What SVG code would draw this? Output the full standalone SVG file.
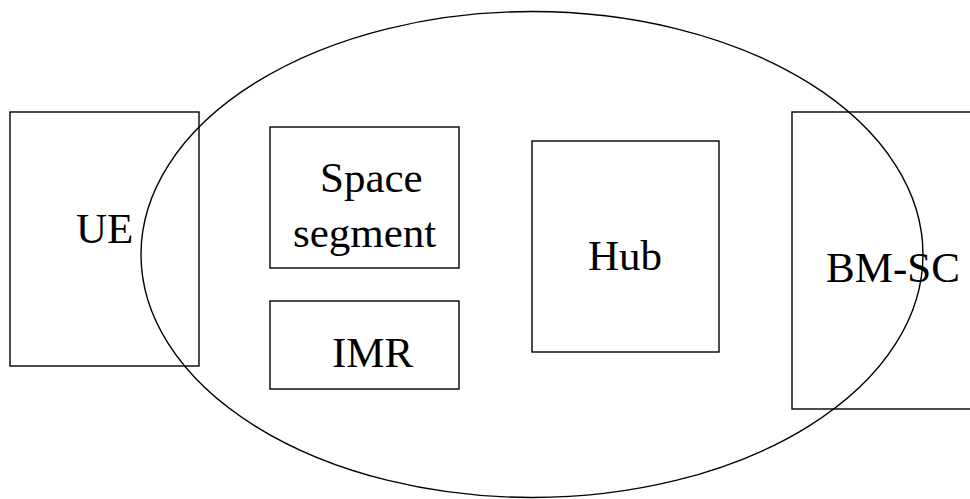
<svg xmlns="http://www.w3.org/2000/svg" width="970" height="499" viewBox="0 0 970 499">
<style>
.box{fill:none;stroke:#000;stroke-width:1.4}
.lbl{font-family:'Liberation Serif','Times New Roman','DejaVu Serif',serif;font-size:43px;fill:#000}
</style>
<rect x="0" y="0" width="970" height="499" fill="#fff"/>
<g id="ue"><rect class="box" x="10" y="112" width="189" height="254"/><text class="lbl" font-family="Liberation Serif, serif" x="76" y="243">UE</text></g>
<g id="space-segment"><rect class="box" x="270" y="127" width="189" height="141"/><text class="lbl" font-family="Liberation Serif, serif" x="320" y="192">Space</text><text class="lbl" font-family="Liberation Serif, serif" x="293" y="247">segment</text></g>
<g id="imr"><rect class="box" x="270" y="301" width="189" height="88"/><text class="lbl" font-family="Liberation Serif, serif" x="332" y="367">IMR</text></g>
<g id="hub"><rect class="box" x="532" y="141" width="187" height="211"/><text class="lbl" font-family="Liberation Serif, serif" x="588" y="270">Hub</text></g>
<g id="bm-sc"><rect class="box" x="792" y="112" width="190" height="297"/><text class="lbl" font-family="Liberation Serif, serif" x="826" y="282">BM-SC</text></g>
<g id="core"><ellipse class="box" cx="532" cy="254.5" rx="391" ry="243"/></g>
<g id="connectors"></g>
</svg>
